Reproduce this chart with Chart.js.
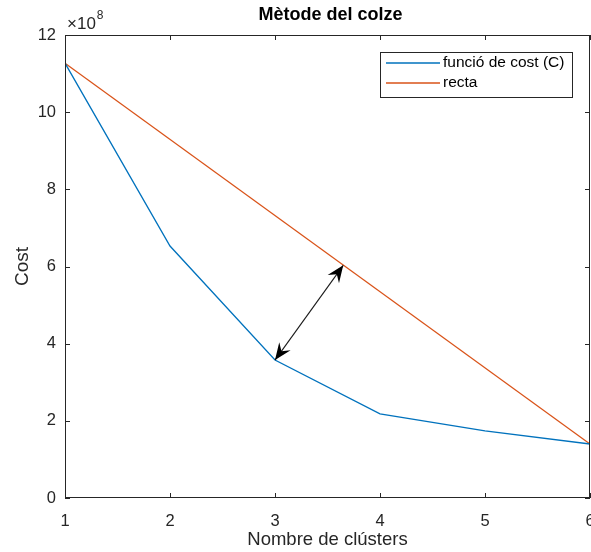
<!DOCTYPE html>
<html>
<head>
<meta charset="utf-8">
<script src="https://cdn.jsdelivr.net/npm/chart.js@4.4.1/dist/chart.umd.min.js"></script>
<style>
html,body{margin:0;padding:0;background:#fff;}
#wrap{width:591px;height:552px;position:relative;}
</style>
</head>
<body>
<div id="wrap"><canvas id="c" width="591" height="552"></canvas></div>
<script>
const clusters = [1, 2, 3, 4, 5, 6];
const costValues = [11.27, 6.53, 3.575, 2.18, 1.74, 1.40];
const lineX = [1, 6];
const lineValues = [11.27, 1.40];
const arrowX = [3, 3.65];
const arrowY = [3.575, 6.03];
const xTicks = [1, 2, 3, 4, 5, 6];
const yTicks = [0, 2, 4, 6, 8, 10, 12];
const seriesLabels = ['funció de cost (C)', 'recta'];
const titleText = 'Mètode del colze';
const xTitle = 'Nombre de clústers';
const yTitle = 'Cost';
const exponentText = '8';

const BLUE = '#0072BD';
const ORANGE = '#D95319';
const AX = '#262626';
const FONT = '"Liberation Sans", Arial, Helvetica, sans-serif';

const decor = {
  id: 'decor',
  afterDatasetsDraw(chart) {
    const ctx = chart.ctx;
    const a = chart.chartArea;
    const xs = chart.scales.x, ys = chart.scales.y;
    ctx.save();
    // box
    ctx.strokeStyle = AX;
    ctx.lineWidth = 1;
    ctx.strokeRect(Math.round(a.left) + 0.5, Math.round(a.top) + 0.5, Math.round(a.right - a.left) - 1, Math.round(a.bottom - a.top) - 1);
    // inward ticks
    const tl = 5;
    ctx.beginPath();
    xTicks.forEach(v => {
      const px = Math.round(xs.getPixelForValue(v)) + 0.5;
      ctx.moveTo(px, a.bottom); ctx.lineTo(px, a.bottom - tl);
      ctx.moveTo(px, a.top); ctx.lineTo(px, a.top + tl);
    });
    yTicks.forEach(v => {
      const py = Math.round(ys.getPixelForValue(v)) + 0.5;
      ctx.moveTo(a.left, py); ctx.lineTo(a.left + tl, py);
      ctx.moveTo(a.right, py); ctx.lineTo(a.right - tl, py);
    });
    ctx.stroke();

    // arrow
    const x1 = xs.getPixelForValue(arrowX[0]), y1 = ys.getPixelForValue(arrowY[0]);
    const x2 = xs.getPixelForValue(arrowX[1]), y2 = ys.getPixelForValue(arrowY[1]);
    ctx.strokeStyle = '#1a1a1a';
    ctx.fillStyle = '#000';
    ctx.lineWidth = 1.1;
    ctx.beginPath(); ctx.moveTo(x1, y1); ctx.lineTo(x2, y2); ctx.stroke();
    const head = (tx, ty, fx, fy) => {
      const ang = Math.atan2(ty - fy, tx - fx);
      const L = 17, W = 7, notch = 11;
      const ca = Math.cos(ang), sa = Math.sin(ang);
      const bx = tx - L * ca, by = ty - L * sa;
      const nx = tx - notch * ca, ny = ty - notch * sa;
      ctx.beginPath();
      ctx.moveTo(tx, ty);
      ctx.lineTo(bx - W * sa, by + W * ca);
      ctx.lineTo(nx, ny);
      ctx.lineTo(bx + W * sa, by - W * ca);
      ctx.closePath();
      ctx.fill();
    };
    head(x1, y1, x2, y2);
    head(x2, y2, x1, y1);

    // title
    ctx.fillStyle = '#000';
    ctx.font = 'bold 18px ' + FONT;
    ctx.textAlign = 'center';
    ctx.textBaseline = 'middle';
    ctx.fillText(titleText, (a.left + a.right) / 2 + 3, 15);

    // exponent
    ctx.fillStyle = AX;
    ctx.textAlign = 'left';
    ctx.textBaseline = 'alphabetic';
    ctx.font = '17px ' + FONT;
    ctx.fillText('×10', a.left + 2, a.top - 6);
    const w = ctx.measureText('×10').width;
    ctx.font = '12px ' + FONT;
    ctx.fillText(exponentText, a.left + 2 + w + 1, a.top - 16);

    // legend
    const lx = 380, ly = 52, lw = 192, lh = 45;
    ctx.fillStyle = '#fff';
    ctx.fillRect(lx, ly, lw, lh);
    ctx.strokeStyle = AX;
    ctx.lineWidth = 1;
    ctx.strokeRect(lx + 0.5, ly + 0.5, lw, lh);
    ctx.font = '15.5px ' + FONT;
    ctx.textBaseline = 'middle';
    chart.data.datasets.forEach((ds, i) => {
      const yy = ly + 11 + i * 20;
      ctx.strokeStyle = ds.borderColor;
      ctx.lineWidth = 1.3;
      ctx.beginPath(); ctx.moveTo(386, yy); ctx.lineTo(440, yy); ctx.stroke();
      ctx.fillStyle = '#000';
      ctx.fillText(ds.label, 443, yy);
    });
    ctx.restore();
  }
};

new Chart(document.getElementById('c'), {
  type: 'line',
  data: {
    datasets: [
      { label: seriesLabels[0], data: clusters.map((x, i) => ({ x, y: costValues[i] })), borderColor: BLUE, borderWidth: 1.3, pointRadius: 0, tension: 0, fill: false },
      { label: seriesLabels[1], data: lineX.map((x, i) => ({ x, y: lineValues[i] })), borderColor: ORANGE, borderWidth: 1.3, pointRadius: 0, tension: 0, fill: false }
    ]
  },
  options: {
    responsive: false,
    animation: false,
    devicePixelRatio: 1,
    layout: { padding: { left: 0, right: 1, top: 35, bottom: 0 } },
    plugins: { legend: { display: false }, title: { display: false }, tooltip: { enabled: false } },
    scales: {
      x: {
        type: 'linear', min: 1, max: 6,
        afterFit(s) { s.height = 54; s.paddingLeft = 0; s.paddingRight = 0; },
        afterBuildTicks(s) { s.ticks = xTicks.map(v => ({ value: v })); },
        grid: { display: false, drawTicks: false },
        border: { display: false },
        ticks: { color: AX, font: { family: FONT, size: 16.5 }, padding: 14, maxRotation: 0, autoSkip: false },
        title: { display: true, text: xTitle, color: AX, font: { family: FONT, size: 18.5 }, padding: { top: 0, bottom: 1 } }
      },
      y: {
        type: 'linear', min: 0, max: 12,
        afterFit(s) { s.width = 65; s.paddingTop = 0; s.paddingBottom = 0; },
        afterBuildTicks(s) { s.ticks = yTicks.map(v => ({ value: v })); },
        grid: { display: false, drawTicks: false },
        border: { display: false },
        ticks: { color: AX, font: { family: FONT, size: 16.5 }, padding: 9 },
        title: { display: true, text: yTitle, color: AX, font: { family: FONT, size: 19 }, padding: { top: 11, bottom: 0 } }
      }
    }
  },
  plugins: [decor]
});
</script>
</body>
</html>
